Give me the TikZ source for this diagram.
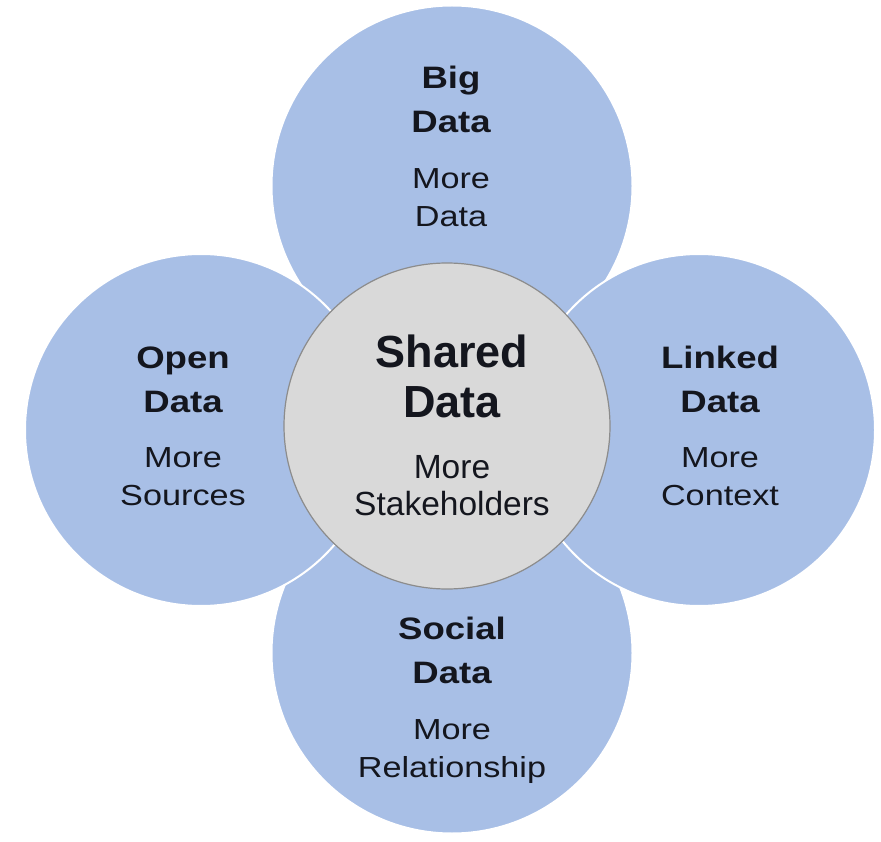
\documentclass[tikz,border=0pt]{standalone}
\usepackage{fontspec}
\setmainfont{Liberation Sans}
\newfontfamily\widesans[FakeStretch=1.18]{Liberation Sans}
\usetikzlibrary{positioning}
\definecolor{petalblue}{RGB}{168,191,230}
\definecolor{hubgray}{RGB}{217,217,217}
\definecolor{hubline}{RGB}{140,140,140}
\definecolor{ink}{RGB}{20,22,30}
\tikzstyle{petal} =
  [circle, draw=white, line width=2pt, fill=petalblue, inner sep=0pt]
\tikzstyle{hub} =
  [circle, draw=hubline, line width=1.2pt, fill=hubgray, inner sep=0pt,
   minimum size=326pt]
\tikzstyle{head} =
  [align=center, text=ink, inner sep=0pt, anchor=base,
   font=\widesans\fontsize{31}{44}\selectfont\bfseries]
\tikzstyle{sub} =
  [align=center, text=ink, inner sep=0pt, anchor=base,
   font=\widesans\fontsize{29}{38}\selectfont]

\begin{document}
\begin{tikzpicture}[x=1pt,y=-1pt]
  \useasboundingbox (0,0) rectangle (881,842);
  % outer circles
  \node [petal, minimum size=361pt] (big)    at (452,186) {};
  \node [petal, minimum size=361pt] (social) at (452,653) {};
  \node [petal, minimum size=352pt] (open)   at (201,430) {};
  \node [petal, minimum size=352pt] (linked) at (699,430) {};
  \node [hub] (shared) at (447,426) {};

  % texts (base = last line)
  \node [head] (bigh)    at (451,133) {Big\\Data};
  \node [sub]  (bigs)    at (451,227) {More\\Data};
  \node [head] (openh)   at (183,412) {Open\\Data};
  \node [sub]  (opens)   at (183,505) {More\\Sources};
  \node [head] (linkedh) at (720,412) {Linked\\Data};
  \node [sub]  (linkeds) at (720,505) {More\\Context};
  \node [head] (socialh) at (452,683) {Social\\Data};
  \node [sub]  (socials) at (452,777) {More\\Relationship};
  \node [head, font=\fontsize{45}{50}\selectfont\bfseries] (sharedh)
    at (452,417) {Shared\\Data};
  \node [sub, font=\fontsize{33.5}{37}\selectfont] (shareds)
    at (452,515) {More\\Stakeholders};
\end{tikzpicture}
\end{document}
